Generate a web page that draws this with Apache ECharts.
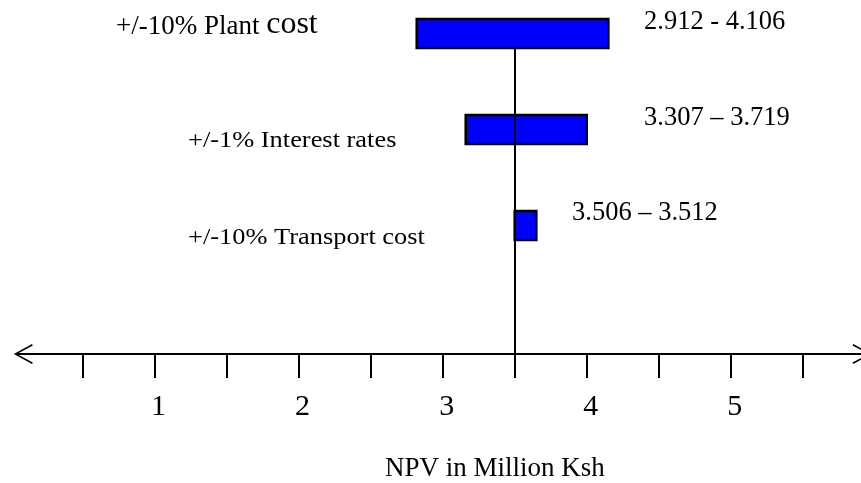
<!DOCTYPE html>
<html>
<head>
<meta charset="utf-8">
<title>NPV sensitivity</title>
<script src="https://cdn.jsdelivr.net/npm/echarts@6/dist/echarts.min.js"></script>
<style>
  html, body { margin: 0; padding: 0; background: #fff; }
  #chart { width: 861px; height: 483px; }
</style>
</head>
<body>
<div id="chart"></div>
<script>
// sensitivity factors, top to bottom
var factors = ['+/-10% Plant cost', '+/-1% Interest rates', '+/-10% Transport cost'];
// NPV range written beside each bar
var rangeLabels = ['2.912 - 4.106', '3.307 – 3.719', '3.506 – 3.512'];
// bar ends as drawn, NPV in million Ksh
var lowNpv = [2.82, 3.16, 3.50];
var highNpv = [4.15, 4.00, 3.65];
var baseNpv = 3.5;
var tickValues = [0.5, 1, 1.5, 2, 2.5, 3, 3.5, 4, 4.5, 5, 5.5];
var tickLabels = [1, 2, 3, 4, 5];

// text placement (px): left edge and baseline offset from the bar centre
var nameX = [116, 188, 188];
var nameDy = [1.5, 19.5, 20.7];
var rangeX = [644, 644, 572];
var rangeDy = [-2.8, -2.8, -3.6];

var serif = '"Liberation Serif", "Times New Roman", serif';
var barHeight = 29;

var rows = factors.map(function (f, i) {
  return [i, lowNpv[i], highNpv[i]];
});

// open chevron, pointing up before ECharts turns it along the axis
var arrow = 'path://M10 0L20 18.2L18.5 19L10 3.2L1.5 19L0 18.2Z M9 2L11 2L11 19L9 19Z';

function renderBar(params, api) {
  var i = api.value(0);
  var p0 = api.coord([api.value(1), i]);
  var p1 = api.coord([api.value(2), i]);
  var cy = p0[1];
  var name = factors[i];
  var nameStyle;
  if (i === 0) {
    nameStyle = {
      text: name.replace(/^(.*\s)(cost)$/, '{a|$1}{b|$2}'),
      fill: '#000',
      align: 'left',
      verticalAlign: 'middle',
      rich: {
        a: { fontSize: 27, fontFamily: serif, fill: '#000', verticalAlign: 'bottom' },
        b: { fontSize: 32, fontFamily: serif, fill: '#000', verticalAlign: 'bottom' }
      }
    };
  } else {
    nameStyle = {
      text: name, fill: '#000', fontSize: 24, fontFamily: serif,
      align: 'left', verticalAlign: 'middle'
    };
  }
  var nameY = i === 0 ? cy + nameDy[i] - 0.3375 * 32 : cy + nameDy[i] - 0.3375 * 24;
  return {
    type: 'group',
    children: [
      {
        type: 'rect',
        shape: { x: p0[0], y: cy - barHeight / 2, width: p1[0] - p0[0], height: barHeight },
        style: { fill: '#0000ff', stroke: '#000', lineWidth: 2.5 }
      },
      {
        type: 'text',
        x: nameX[i],
        y: nameY,
        scaleX: i === 0 ? 1 : 1.1,
        style: nameStyle
      },
      {
        type: 'text',
        x: rangeX[i],
        y: cy + rangeDy[i] - 0.3375 * 26.5,
        style: {
          text: rangeLabels[i], fill: '#000', fontSize: 26.5, fontFamily: serif,
          align: 'left', verticalAlign: 'middle'
        }
      }
    ]
  };
}

var chart = echarts.init(document.getElementById('chart'));
chart.setOption({
  animation: false,
  backgroundColor: '#fff',
  title: {
    text: 'NPV in Million Ksh',
    left: 385,
    top: 455,
    padding: 0,
    textStyle: { fontSize: 27, fontWeight: 'normal', fontFamily: serif, color: '#000' }
  },
  grid: { left: 23.3, right: -1, top: 49, bottom: 129, outerBoundsMode: 'none', containLabel: false },
  xAxis: {
    type: 'value',
    min: 0.09,
    max: 5.91,
    splitLine: { show: false },
    axisLine: {
      show: true,
      symbol: [arrow, arrow],
      symbolSize: [20, 19],
      lineStyle: { color: '#000', width: 2 }
    },
    axisTick: {
      show: true,
      customValues: tickValues,
      length: 24,
      lineStyle: { color: '#000', width: 2 }
    },
    axisLabel: {
      customValues: tickLabels,
      fontSize: 30,
      fontFamily: serif,
      color: '#000',
      margin: 38,
      padding: [0, 0, 0, 8]
    }
  },
  yAxis: {
    type: 'value',
    inverse: true,
    min: 0.1615,
    max: 3.3385,
    show: false
  },
  series: [{
    type: 'custom',
    renderItem: renderBar,
    encode: { x: [1, 2], y: 0 },
    data: rows,
    markLine: {
      silent: true,
      symbol: 'none',
      label: { show: false },
      lineStyle: { color: '#000', width: 2, type: 'solid' },
      data: [{ xAxis: baseNpv }]
    }
  }]
});
</script>
</body>
</html>
